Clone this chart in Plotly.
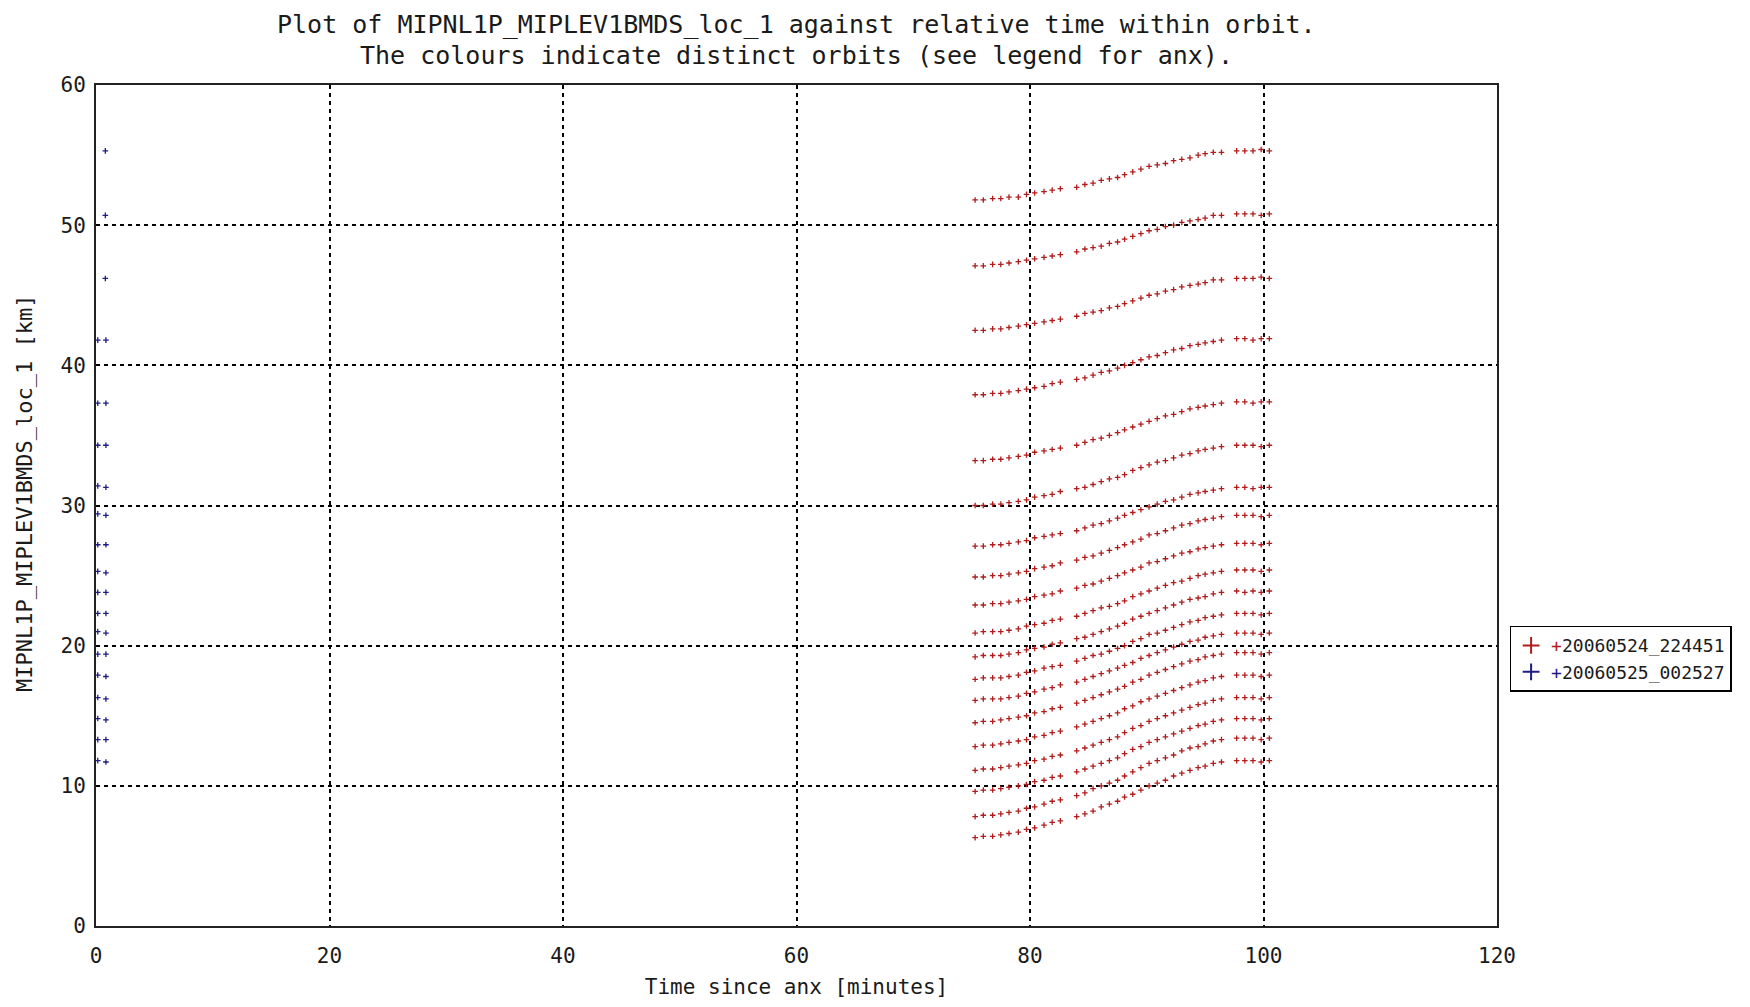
import plotly.graph_objects as go

# ---------------- data ----------------
# relative time within orbit [minutes] for the red orbit (same sampling for every row)
red_times = [75.3, 76.0, 76.8, 77.5, 78.2, 79.0, 79.7, 80.4, 81.2, 81.9, 82.6,
             84.0, 84.7, 85.4, 86.1, 86.8, 87.5, 88.1, 88.8, 89.5, 90.2, 90.9,
             91.6, 92.3, 93.0, 93.7, 94.4, 95.0, 95.7, 96.4,
             97.7, 98.4, 99.1, 99.8, 100.5]

red_row_01 = [51.8, 51.8, 51.9, 51.9, 52.0, 52.0, 52.2, 52.3, 52.4, 52.5, 52.6, 52.7, 52.9, 53.0, 53.2, 53.3, 53.4, 53.6, 53.8, 54.0, 54.2, 54.3, 54.4, 54.6, 54.7, 54.8, 55.0, 55.1, 55.2, 55.2, 55.3, 55.3, 55.3, 55.4, 55.3]
red_row_02 = [47.1, 47.1, 47.2, 47.2, 47.3, 47.4, 47.5, 47.6, 47.7, 47.8, 47.9, 48.1, 48.3, 48.4, 48.5, 48.7, 48.8, 49.0, 49.2, 49.4, 49.6, 49.7, 49.9, 50.0, 50.2, 50.3, 50.4, 50.5, 50.7, 50.7, 50.8, 50.8, 50.8, 50.7, 50.8]
red_row_03 = [42.5, 42.5, 42.6, 42.6, 42.7, 42.8, 42.9, 43.0, 43.1, 43.2, 43.3, 43.5, 43.7, 43.8, 43.9, 44.1, 44.2, 44.4, 44.6, 44.8, 45.0, 45.1, 45.3, 45.4, 45.6, 45.7, 45.8, 45.9, 46.1, 46.1, 46.2, 46.2, 46.2, 46.3, 46.2]
red_row_04 = [37.9, 37.9, 38.0, 38.0, 38.1, 38.2, 38.3, 38.4, 38.5, 38.7, 38.8, 39.0, 39.1, 39.3, 39.5, 39.6, 39.8, 40.0, 40.2, 40.4, 40.6, 40.7, 40.9, 41.1, 41.2, 41.4, 41.5, 41.6, 41.7, 41.8, 41.9, 41.9, 41.8, 41.9, 41.9]
red_row_05 = [33.2, 33.2, 33.3, 33.3, 33.4, 33.5, 33.6, 33.8, 33.9, 34.0, 34.1, 34.3, 34.5, 34.7, 34.8, 35.0, 35.2, 35.4, 35.6, 35.8, 36.0, 36.2, 36.4, 36.5, 36.7, 36.9, 37.0, 37.1, 37.2, 37.3, 37.4, 37.4, 37.3, 37.4, 37.4]
red_row_06 = [30.0, 30.0, 30.1, 30.1, 30.2, 30.3, 30.4, 30.6, 30.7, 30.8, 31.0, 31.2, 31.3, 31.5, 31.7, 31.9, 32.0, 32.2, 32.5, 32.7, 32.9, 33.1, 33.2, 33.4, 33.6, 33.7, 33.9, 34.0, 34.1, 34.2, 34.3, 34.3, 34.3, 34.2, 34.3]
red_row_07 = [27.1, 27.1, 27.2, 27.2, 27.3, 27.4, 27.5, 27.7, 27.8, 27.9, 28.0, 28.2, 28.4, 28.6, 28.7, 28.9, 29.1, 29.3, 29.5, 29.7, 29.9, 30.1, 30.3, 30.4, 30.6, 30.8, 30.9, 31.0, 31.1, 31.2, 31.3, 31.3, 31.2, 31.3, 31.3]
red_row_08 = [24.9, 24.9, 25.0, 25.0, 25.1, 25.2, 25.3, 25.5, 25.6, 25.7, 25.9, 26.1, 26.3, 26.4, 26.6, 26.8, 27.0, 27.2, 27.4, 27.6, 27.9, 28.0, 28.2, 28.4, 28.6, 28.7, 28.9, 29.0, 29.1, 29.2, 29.3, 29.3, 29.3, 29.2, 29.3]
red_row_09 = [22.9, 22.9, 23.0, 23.0, 23.1, 23.2, 23.3, 23.5, 23.6, 23.7, 23.9, 24.1, 24.3, 24.4, 24.6, 24.8, 25.0, 25.2, 25.4, 25.6, 25.9, 26.0, 26.2, 26.4, 26.6, 26.7, 26.9, 27.0, 27.1, 27.2, 27.3, 27.3, 27.3, 27.2, 27.3]
red_row_10 = [20.9, 21.0, 21.0, 21.0, 21.1, 21.2, 21.4, 21.5, 21.6, 21.8, 21.9, 22.1, 22.3, 22.5, 22.7, 22.8, 23.0, 23.2, 23.5, 23.7, 23.9, 24.1, 24.3, 24.5, 24.6, 24.8, 25.0, 25.1, 25.2, 25.3, 25.4, 25.4, 25.4, 25.3, 25.4]
red_row_11 = [19.2, 19.3, 19.3, 19.3, 19.4, 19.5, 19.7, 19.8, 19.9, 20.1, 20.2, 20.5, 20.6, 20.8, 21.0, 21.2, 21.4, 21.6, 21.9, 22.1, 22.3, 22.5, 22.7, 22.9, 23.1, 23.3, 23.4, 23.5, 23.7, 23.8, 23.9, 23.8, 23.9, 23.8, 23.9]
red_row_12 = [17.6, 17.7, 17.7, 17.7, 17.8, 17.9, 18.1, 18.2, 18.4, 18.5, 18.6, 18.9, 19.1, 19.3, 19.4, 19.6, 19.8, 20.0, 20.3, 20.5, 20.8, 20.9, 21.1, 21.3, 21.5, 21.7, 21.8, 22.0, 22.1, 22.2, 22.3, 22.3, 22.3, 22.2, 22.3]
red_row_13 = [16.1, 16.2, 16.2, 16.2, 16.3, 16.4, 16.6, 16.7, 16.9, 17.0, 17.2, 17.4, 17.6, 17.8, 18.0, 18.2, 18.4, 18.6, 18.8, 19.1, 19.3, 19.5, 19.7, 19.9, 20.1, 20.3, 20.4, 20.6, 20.7, 20.8, 20.9, 20.9, 20.9, 20.8, 20.9]
red_row_14 = [14.5, 14.6, 14.6, 14.7, 14.8, 14.9, 15.0, 15.2, 15.3, 15.5, 15.6, 15.9, 16.1, 16.3, 16.5, 16.7, 16.9, 17.1, 17.4, 17.6, 17.9, 18.1, 18.3, 18.5, 18.7, 18.9, 19.0, 19.2, 19.3, 19.4, 19.5, 19.5, 19.5, 19.4, 19.5]
red_row_15 = [12.8, 12.9, 12.9, 13.0, 13.1, 13.2, 13.3, 13.5, 13.6, 13.8, 13.9, 14.2, 14.4, 14.6, 14.8, 15.0, 15.2, 15.5, 15.7, 16.0, 16.2, 16.4, 16.6, 16.8, 17.0, 17.2, 17.4, 17.5, 17.7, 17.8, 17.9, 17.9, 17.9, 17.8, 17.9]
red_row_16 = [11.1, 11.2, 11.2, 11.3, 11.4, 11.5, 11.6, 11.8, 11.9, 12.1, 12.2, 12.5, 12.7, 12.9, 13.1, 13.3, 13.5, 13.8, 14.1, 14.3, 14.6, 14.8, 15.0, 15.2, 15.4, 15.6, 15.8, 15.9, 16.1, 16.2, 16.3, 16.3, 16.3, 16.2, 16.3]
red_row_17 = [9.6, 9.7, 9.7, 9.8, 9.9, 10.0, 10.1, 10.3, 10.4, 10.6, 10.7, 11.0, 11.2, 11.4, 11.6, 11.8, 12.0, 12.3, 12.6, 12.8, 13.1, 13.3, 13.5, 13.7, 13.9, 14.1, 14.3, 14.4, 14.6, 14.7, 14.8, 14.8, 14.8, 14.7, 14.8]
red_row_18 = [7.8, 7.9, 7.9, 8.0, 8.1, 8.2, 8.4, 8.5, 8.7, 8.9, 9.0, 9.3, 9.5, 9.8, 10.0, 10.2, 10.4, 10.7, 11.0, 11.3, 11.6, 11.8, 12.0, 12.2, 12.5, 12.7, 12.8, 13.0, 13.2, 13.3, 13.4, 13.4, 13.4, 13.3, 13.4]
red_row_19 = [6.3, 6.4, 6.4, 6.5, 6.6, 6.7, 6.9, 7.0, 7.2, 7.4, 7.5, 7.8, 8.0, 8.2, 8.5, 8.7, 8.9, 9.2, 9.4, 9.7, 10.0, 10.2, 10.4, 10.7, 10.9, 11.1, 11.3, 11.4, 11.6, 11.7, 11.8, 11.8, 11.8, 11.7, 11.8]

red_rows = [red_row_01, red_row_02, red_row_03, red_row_04, red_row_05, red_row_06,
            red_row_07, red_row_08, red_row_09, red_row_10, red_row_11, red_row_12,
            red_row_13, red_row_14, red_row_15, red_row_16, red_row_17, red_row_18,
            red_row_19]

# blue orbit: start of next orbit (time [min], height [km])
blue_times = [0.8, 0.8, 0.8,
              0.15, 0.85, 0.15, 0.85, 0.15, 0.85, 0.15, 0.85, 0.15, 0.85,
              0.15, 0.85, 0.15, 0.85, 0.15, 0.85, 0.15, 0.85, 0.15, 0.85,
              0.15, 0.85, 0.15, 0.85, 0.15, 0.85, 0.15, 0.85, 0.15, 0.85,
              0.15, 0.85]
blue_values = [55.3, 50.7, 46.2,
               41.8, 41.8, 37.3, 37.3, 34.3, 34.3, 31.4, 31.3, 29.4, 29.3,
               27.2, 27.2, 25.3, 25.2, 23.8, 23.8, 22.3, 22.3, 21.0, 20.9,
               19.4, 19.4, 17.9, 17.8, 16.3, 16.2, 14.8, 14.7, 13.3, 13.3,
               11.8, 11.7]

orbit_names = ["20060524_224451", "20060525_002527"]
orbit_colors = ["#b01c1c", "#1c1c84"]

title_lines = ["Plot of MIPNL1P_MIPLEV1BMDS_loc_1 against relative time within orbit.",
               "The colours indicate distinct orbits (see legend for anx)."]
x_title = "Time since anx [minutes]"
y_title = "MIPNL1P_MIPLEV1BMDS_loc_1 [km]"
x_ticks = [0, 20, 40, 60, 80, 100, 120]
y_ticks = [0, 10, 20, 30, 40, 50, 60]

# ---------------- figure ----------------
red_x, red_y = [], []
for row in red_rows:
    red_x.extend(red_times)
    red_y.extend(row)

FONT = "DejaVu Sans Mono"
TXT = "#1a1a1a"

fig = go.Figure()
fig.add_trace(go.Scatter(
    x=red_x, y=red_y, mode="markers",
    name=f"<span style='color:{orbit_colors[0]}'>+</span>{orbit_names[0]}",
    marker=dict(symbol="cross-thin", size=4, line=dict(width=1.3, color=orbit_colors[0]),
                color=orbit_colors[0]),
))
fig.add_trace(go.Scatter(
    x=blue_times, y=blue_values, mode="markers",
    name=f"<span style='color:{orbit_colors[1]}'>+</span>{orbit_names[1]}",
    marker=dict(symbol="cross-thin", size=4, line=dict(width=1.3, color=orbit_colors[1]),
                color=orbit_colors[1]),
))

axis_common = dict(
    showline=True, linecolor="#222222", linewidth=2, mirror=True,
    showgrid=True, gridcolor="black", gridwidth=1.5, griddash="4px,4px",
    zeroline=False, ticks="",
    tickfont=dict(family=FONT, size=21, color=TXT),
)

fig.update_layout(
    width=1750, height=1007,
    paper_bgcolor="white", plot_bgcolor="white",
    margin=dict(l=96, r=253, t=85, b=81, autoexpand=False),
    xaxis=dict(range=[0, 120], tickvals=x_ticks, ticklabelstandoff=10,
               title=dict(text=x_title, font=dict(family=FONT, size=21, color=TXT), standoff=12),
               **axis_common),
    yaxis=dict(range=[0, 60], tickvals=y_ticks, ticklabelstandoff=4, **axis_common),
    legend=dict(x=1.009, xanchor="left", y=0.357, yanchor="top",
                bordercolor="black", borderwidth=1.5, bgcolor="white",
                font=dict(family=FONT, size=18, color=TXT),
                itemsizing="constant", tracegroupgap=0),
    showlegend=True,
    annotations=[
        dict(text=title_lines[0], xref="paper", yref="paper", x=0.5, y=1.0714,
             xanchor="center", yanchor="middle", showarrow=False,
             font=dict(family=FONT, size=25, color=TXT)),
        dict(text=title_lines[1], xref="paper", yref="paper", x=0.5, y=1.0345,
             xanchor="center", yanchor="middle", showarrow=False,
             font=dict(family=FONT, size=25, color=TXT)),
        dict(text=y_title, xref="paper", yref="paper", x=-0.0507, y=0.5149,
             xanchor="center", yanchor="middle", textangle=-90, showarrow=False,
             font=dict(family=FONT, size=22, color=TXT)),
    ],
)

fig.write_html("out.html",
               config={"displayModeBar": False},
               post_script="document.body.style.margin='0';document.body.style.overflow='hidden';")
